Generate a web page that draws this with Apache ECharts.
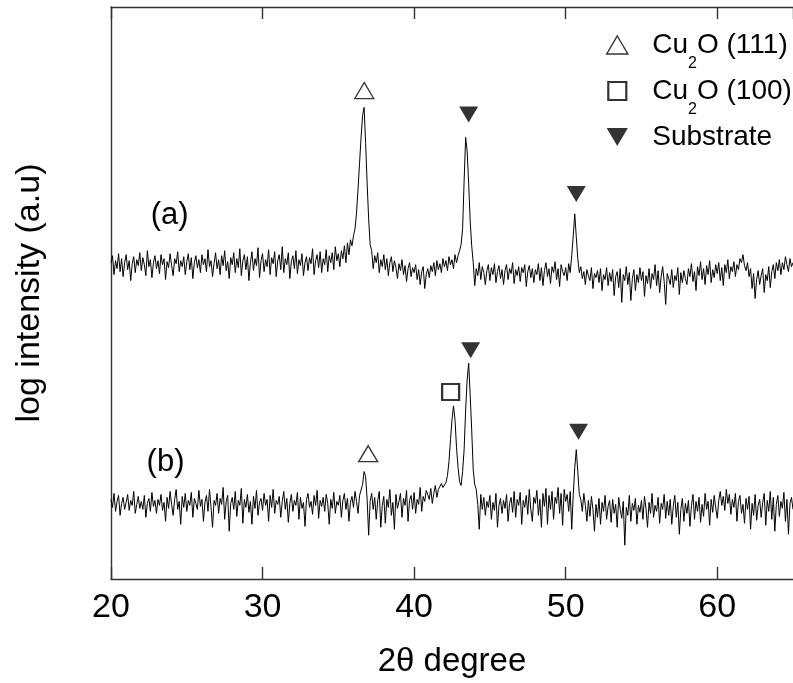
<!DOCTYPE html>
<html>
<head>
<meta charset="utf-8">
<script src="https://cdn.jsdelivr.net/npm/echarts@6/dist/echarts.min.js"></script>
<style>
html,body{margin:0;padding:0;background:#fff;}
#chart{width:793px;height:683px;}
</style>
</head>
<body>
<div id="chart"></div>
<script>
// ---- data ----
const twoThetaStart = 20;   // degrees
const twoThetaStep = 0.1;   // degrees per sample
const xTickValues = [20, 30, 40, 50, 60];

// trace (a), arbitrary log-intensity units (offset for display)
const intensityA = [
318,325,306,320,312,327,309,322,304,318,
326,311,320,300,317,324,308,321,315,328,
310,323,316,305,330,314,321,303,318,325,
312,320,307,326,316,322,301,319,313,327,
315,305,322,317,329,309,320,314,324,306,
319,327,311,323,302,318,325,313,321,308,
326,316,322,309,331,314,320,304,317,328,
312,321,306,325,315,330,310,319,302,323,
316,328,308,322,313,332,305,320,326,311,
324,300,318,329,310,322,315,333,303,320,
327,309,321,314,331,306,323,317,329,304,
320,326,311,334,308,322,316,328,302,319,
325,312,330,307,321,315,327,305,318,324,
310,323,317,332,306,320,326,313,329,308,
322,316,331,309,325,318,328,311,334,320,
327,314,330,322,335,318,338,326,341,335,
345,352,368,392,418,444,466,474,438,398,
362,336,330,312,325,318,328,308,321,314,
326,311,322,305,318,324,309,320,313,302,
317,310,321,306,315,299,312,318,304,313,
308,316,301,311,296,309,314,292,306,312,
303,315,309,318,305,320,311,317,308,322,
314,320,310,324,316,321,312,326,318,325,
330,336,352,400,444,430,398,360,335,318,
295,312,305,318,301,314,308,296,310,316,
300,313,306,317,298,309,315,302,311,296,
310,316,301,312,307,318,297,311,305,314,
299,313,308,316,294,309,315,303,312,298,
311,306,317,300,313,295,310,318,304,312,
297,314,308,319,301,312,294,316,309,305,
313,300,317,308,325,345,367,344,322,308,
314,302,309,296,311,305,300,313,292,307,
303,310,298,312,290,306,301,313,295,308,
299,311,285,304,309,293,312,278,306,300,
314,296,308,280,302,311,290,306,298,313,
300,309,284,305,297,312,292,307,301,316,
295,310,288,304,314,299,276,307,302,296,
311,293,305,300,313,286,308,298,310,302,
296,312,304,317,299,309,290,314,305,319,
301,312,296,315,306,320,298,311,303,316,
307,318,300,313,295,316,308,321,302,314,
309,319,304,316,311,322,318,326,315,310,
318,304,312,292,307,282,301,310,296,305,
312,288,306,300,314,293,309,316,302,318,
310,321,306,318,311,324,316,309,322,314,
318
];

// trace (b)
const intensityB = [
80,72,86,68,78,84,64,76,82,70,
77,85,69,79,74,88,66,75,83,71,
78,70,84,62,76,81,68,87,73,79,
66,80,74,85,69,77,58,82,71,88,
75,64,80,90,70,78,55,83,72,86,
68,79,74,87,62,81,76,70,89,73,
80,58,77,84,68,90,72,52,79,74,
86,66,81,75,92,60,78,84,48,76,
82,70,88,63,79,74,91,56,80,72,
85,67,78,55,83,71,89,64,77,81,
69,86,74,80,58,84,72,90,66,79,
75,83,62,78,88,70,81,57,76,85,
68,79,74,87,60,82,71,77,53,80,
86,72,78,65,84,74,89,61,79,73,
82,68,85,76,55,80,71,87,66,78,
74,84,62,79,86,70,81,58,77,83,
72,88,78,66,84,86,95,108,103,80,
44,78,86,70,82,60,79,88,52,74,
83,56,80,72,90,64,77,50,85,71,
78,86,62,81,74,89,58,79,84,70,
87,66,80,75,92,68,83,78,89,85,
80,91,76,86,94,82,90,88,96,92,
93,97,104,118,140,160,174,160,132,112,
98,94,108,130,170,200,217,185,150,110,
95,90,75,50,85,70,82,64,78,72,
84,60,77,69,86,52,74,81,66,79,
71,85,58,76,82,67,88,62,80,74,
87,55,79,72,84,65,90,70,58,82,
76,89,64,80,52,86,73,91,55,84,
70,88,60,82,76,92,66,86,54,90,
78,85,68,88,50,85,112,130,108,85,
80,68,86,74,58,79,63,83,70,48,
75,62,81,55,77,68,84,60,73,79,
57,80,66,75,52,82,70,61,78,34,
72,64,84,58,76,69,81,55,74,67,
79,60,83,71,52,77,66,86,62,74,
68,82,56,76,70,85,61,78,64,80,
55,73,84,62,77,45,70,81,58,76,
66,79,53,74,85,60,78,68,82,57,
75,63,86,70,78,54,80,67,84,72,
61,79,88,74,83,69,90,76,85,65,
80,72,86,58,78,84,66,75,56,81,
70,83,50,76,64,85,59,74,80,62,
77,86,54,79,68,88,60,82,48,75,
84,63,78,71,87,58,80,45,76,82,
70
];

// peak markers [2theta, intensity units]
const cu2o111Marks = [[36.71, 491], [36.97, 126]];
const cu2o100Marks = [[42.41, 188]];
const substrateMarks = [[43.6, 467], [50.7, 387], [43.73, 230], [50.85, 148]];
// trace labels [text, 2theta, intensity units]
const traceLabels = [['(a)', 23.87, 365], ['(b)', 23.6, 117]];

// ---- build ----
function toPairs(vals) {
  return vals.map((v, i) => [+(twoThetaStart + i * twoThetaStep).toFixed(2), v]);
}
const FONT = 'Liberation Sans, Arial, sans-serif';
const chart = echarts.init(document.getElementById('chart'), null, {renderer: 'canvas'});

const legendRich = {
  n: {fontSize: 28, lineHeight: 30, fontFamily: FONT, color: '#000'},
  s: {fontSize: 16, lineHeight: 30, fontFamily: FONT, color: '#000', padding: [38, 0, 0, 0]}
};

const option = {
  animation: false,
  backgroundColor: '#fff',
  grid: {left: 111, top: 7, width: 689, height: 575, containLabel: false},
  legend: {
    orient: 'vertical',
    left: 601, top: 13,
    itemWidth: 22, itemHeight: 18, itemGap: -8,
    data: [
      {name: 'Cu2O (111)', icon: 'path://M10,0 L20,17 L0,17 Z', itemStyle: {color: '#fff', borderColor: '#000', borderWidth: 1.4}},
      {name: 'Cu2O (100)', icon: 'path://M0,0 L17,0 L17,17 L0,17 Z', itemStyle: {color: '#fff', borderColor: '#000', borderWidth: 2.2}},
      {name: 'Substrate', icon: 'path://M0,0 L20,0 L10,17 Z', itemStyle: {color: '#000', borderWidth: 0}}
    ],
    textStyle: {fontSize: 28, fontFamily: FONT, color: '#000', padding: [0, 0, 0, 19], rich: legendRich},
    formatter: function (name) {
      if (name.indexOf('Cu2O') === 0) {
        return '{n|Cu}{s|2}{n|O' + name.slice(4) + '}';
      }
      return '{n|' + name + '}{s| }';
    },
    selectedMode: false
  },
  xAxis: [{
    type: 'value', position: 'bottom', min: 20, max: 65, interval: 10,
    name: '2\u03b8 degree', nameLocation: 'middle', nameGap: 66,
    nameTextStyle: {fontSize: 33, fontFamily: FONT, color: '#000'},
    axisLine: {show: true, onZero: false, lineStyle: {color: '#333', width: 1.4}},
    axisTick: {show: true, inside: true, length: 12, lineStyle: {color: '#333', width: 1.4}},
    axisLabel: {show: true, fontSize: 34, fontFamily: FONT, color: '#000', margin: 12, showMaxLabel: false,
      formatter: v => (xTickValues.indexOf(v) >= 0 ? String(v) : '')},
    splitLine: {show: false}
  }, {
    type: 'value', position: 'top', min: 20, max: 65, interval: 10,
    axisLine: {show: true, onZero: false, lineStyle: {color: '#333', width: 1.4}},
    axisTick: {show: true, inside: true, length: 12, lineStyle: {color: '#333', width: 1.4}},
    axisLabel: {show: false},
    splitLine: {show: false}
  }],
  yAxis: {
    type: 'value', min: 0, max: 575,
    name: 'log intensity (a.u)', nameLocation: 'middle', nameGap: 64, nameRotate: 90,
    nameTextStyle: {fontSize: 34, fontFamily: FONT, color: '#000'},
    axisLine: {show: true, onZero: false, lineStyle: {color: '#333', width: 1.4}},
    axisTick: {show: false}, axisLabel: {show: false}, splitLine: {show: false}
  },
  series: [
    {name: 'trace a', type: 'line', data: toPairs(intensityA), showSymbol: false, symbol: 'none',
      lineStyle: {color: '#000', width: 1}, z: 2, silent: true},
    {name: 'trace b', type: 'line', data: toPairs(intensityB), showSymbol: false, symbol: 'none',
      lineStyle: {color: '#000', width: 1}, z: 2, silent: true},
    {name: 'Cu2O (111)', type: 'scatter', data: cu2o111Marks, symbol: 'triangle', symbolSize: [19, 16],
      itemStyle: {color: '#fff', borderColor: '#000', borderWidth: 1.3}, z: 5},
    {name: 'Cu2O (100)', type: 'scatter', data: cu2o100Marks, symbol: 'rect', symbolSize: [17, 16],
      itemStyle: {color: '#fff', borderColor: '#000', borderWidth: 2.2}, z: 5},
    {name: 'Substrate', type: 'scatter', data: substrateMarks, symbol: 'triangle', symbolRotate: 180,
      symbolSize: [19, 16], itemStyle: {color: '#000'}, z: 5},
    {name: 'labels', type: 'scatter', symbol: 'circle', symbolSize: 0, silent: true,
      itemStyle: {color: '#000', opacity: 1},
      data: traceLabels.map(t => ({value: [t[1], t[2]], name: t[0]})),
      label: {show: true, position: 'inside', formatter: p => p.name, fontSize: 31, fontFamily: FONT,
        color: '#000', opacity: 1, textBorderWidth: 0}, z: 5}
  ]
};
chart.setOption(option);
</script>
</body>
</html>
